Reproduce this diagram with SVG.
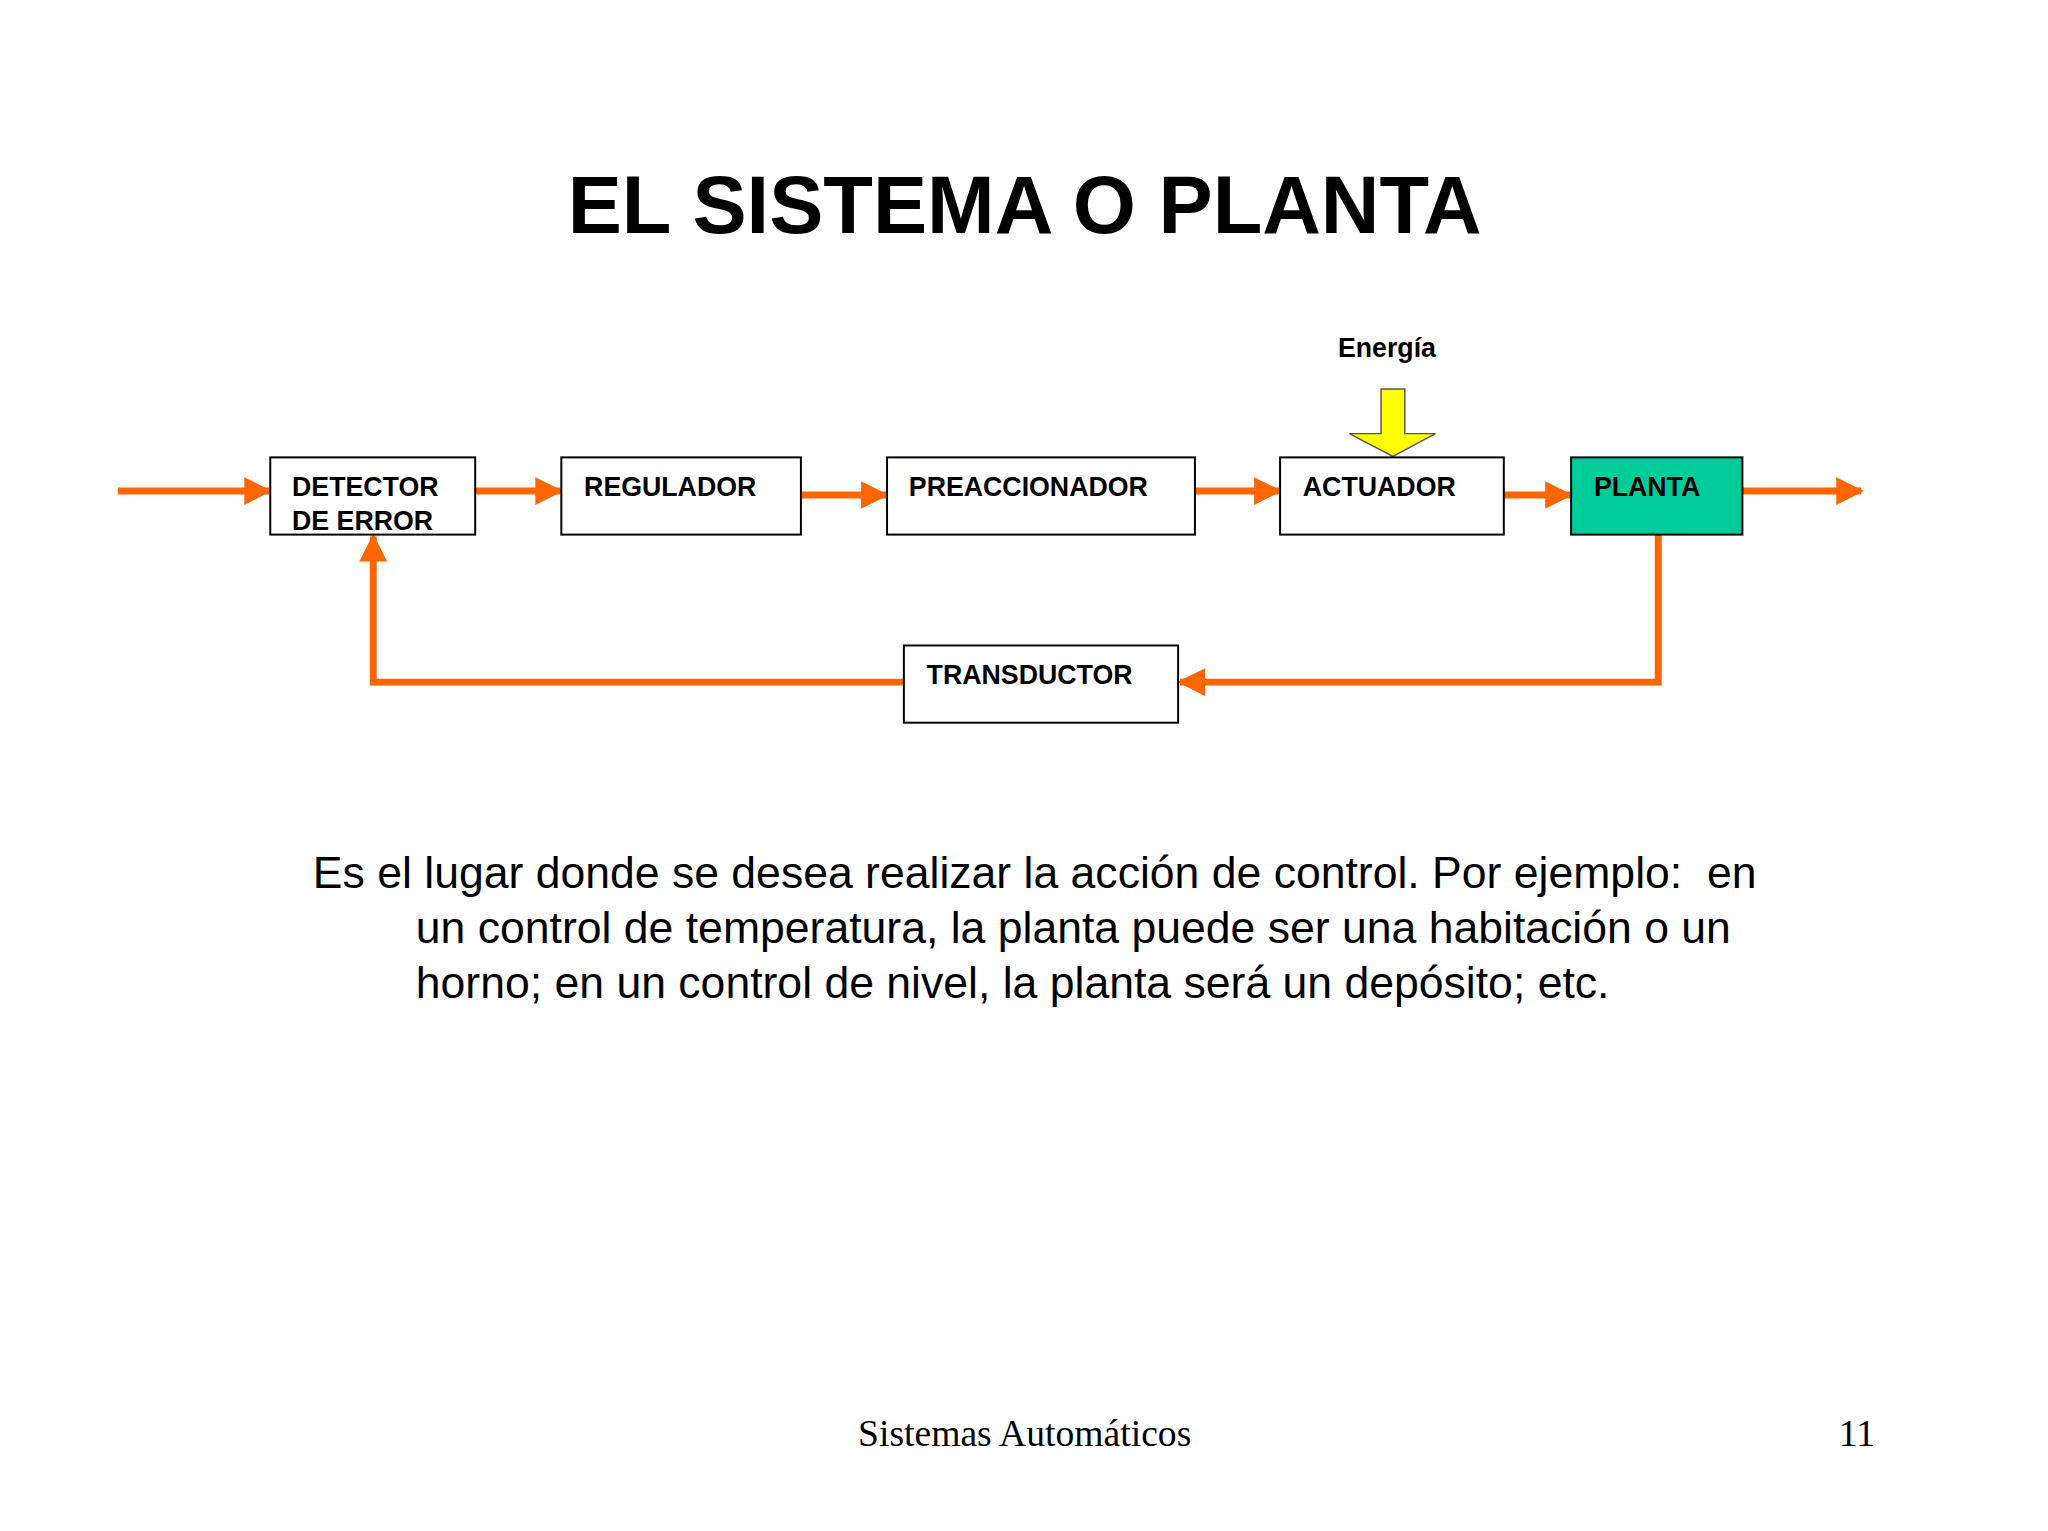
<svg xmlns="http://www.w3.org/2000/svg" width="2048" height="1531" viewBox="0 0 2048 1531">
<defs>
<style>
.box{fill:#fff;stroke:#000;stroke-width:2}
.lbl{font-family:"Liberation Sans",Arial,sans-serif;font-weight:bold;font-size:27px;fill:#000}
.ln{fill:none;stroke:#FF6600;stroke-width:7}
.body{font-family:"Liberation Sans",Arial,sans-serif;font-size:45px;fill:#000}
</style>
<marker id="ah" viewBox="0 0 10 10" refX="9" refY="5" markerWidth="4" markerHeight="4" orient="auto" markerUnits="strokeWidth"><path d="M0,0L10,5L0,10z" fill="#FF6600"/></marker>
</defs>
<rect width="2048" height="1531" fill="#fff"/>
<g transform="scale(0.99)">
<text x="1035" y="235" text-anchor="middle" font-family="Liberation Sans,Arial,sans-serif" font-weight="bold" font-size="82">EL SISTEMA O PLANTA</text>
<g id="connectors">
<line class="ln" x1="119" y1="496" x2="272" y2="496" marker-end="url(#ah)"/>
<line class="ln" x1="480" y1="496" x2="566" y2="496" marker-end="url(#ah)"/>
<line class="ln" x1="809" y1="500" x2="895" y2="500" marker-end="url(#ah)"/>
<line class="ln" x1="1207" y1="496" x2="1292" y2="496" marker-end="url(#ah)"/>
<line class="ln" x1="1519" y1="500" x2="1586" y2="500" marker-end="url(#ah)"/>
<line class="ln" x1="1760" y1="496" x2="1880" y2="496" marker-end="url(#ah)"/>
<polyline class="ln" points="1675,540 1675,689 1192,689" marker-end="url(#ah)"/>
<polyline class="ln" points="913,689 377,689 377,542" marker-end="url(#ah)"/>
<polygon points="1395,393 1419,393 1419,438 1450,438 1407,461 1363,438 1395,438" fill="#FFFF00" stroke="#555" stroke-width="1.5"/>
</g>
<text class="lbl" x="1401" y="361" text-anchor="middle">Energía</text>
<g id="detector"><rect class="box" x="273" y="462" width="207" height="78"/><text class="lbl" x="295" y="501">DETECTOR</text><text class="lbl" x="295" y="535">DE ERROR</text></g>
<g id="regulador"><rect class="box" x="567" y="462" width="242" height="78"/><text class="lbl" x="590" y="501">REGULADOR</text></g>
<g id="preaccionador"><rect class="box" x="896" y="462" width="311" height="78"/><text class="lbl" x="918" y="501">PREACCIONADOR</text></g>
<g id="actuador"><rect class="box" x="1293" y="462" width="226" height="78"/><text class="lbl" x="1316" y="501">ACTUADOR</text></g>
<g id="planta"><rect class="box" x="1587" y="462" width="173" height="78" style="fill:#00CC99"/><text class="lbl" x="1610" y="501">PLANTA</text></g>
<g id="transductor"><rect class="box" x="913" y="652" width="277" height="78"/><text class="lbl" x="936" y="691">TRANSDUCTOR</text></g>
<text class="body" x="316" y="897" xml:space="preserve">Es el lugar donde se desea realizar la acción de control. Por ejemplo:  en</text>
<text class="body" x="420" y="953">un control de temperatura, la planta puede ser una habitación o un</text>
<text class="body" x="420" y="1008">horno; en un control de nivel, la planta será un depósito; etc.</text>
<text x="1035" y="1461" text-anchor="middle" font-family="Liberation Serif,Times New Roman,serif" font-size="38">Sistemas Automáticos</text>
<text x="1894" y="1461" text-anchor="end" font-family="Liberation Serif,Times New Roman,serif" font-size="38">11</text>
</g>
</svg>
